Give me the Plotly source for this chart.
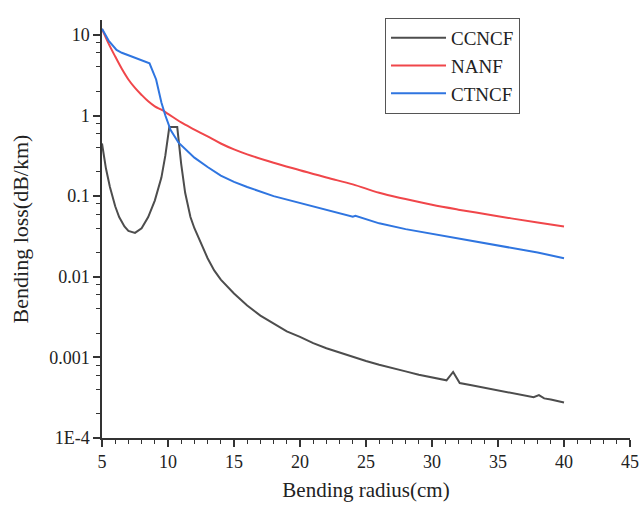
import plotly.graph_objects as go

# CCNCF
ccncf_x = [5.0, 5.3, 5.6, 6.0, 6.3, 6.7, 7.0, 7.5, 8.0, 8.5, 9.0, 9.5, 9.8, 10.1, 10.7,
           11.0, 11.3, 11.7, 12.0, 12.5, 13.0, 13.5, 14.0, 15.0, 16.0, 17.0, 18.0, 19.0,
           20.0, 21.0, 22.0, 23.0, 24.0, 25.0, 26.0, 27.0, 28.0, 29.0, 30.0, 31.1, 31.6,
           32.1, 33.0, 34.0, 35.0, 36.0, 37.0, 37.7, 38.1, 38.5, 39.0, 40.0]
ccncf_y = [0.45, 0.22, 0.13, 0.075, 0.055, 0.042, 0.037, 0.035, 0.040, 0.055, 0.088, 0.17,
           0.32, 0.72, 0.72, 0.25, 0.11, 0.055, 0.040, 0.026, 0.017, 0.012, 0.0092, 0.0062,
           0.0044, 0.0033, 0.0026, 0.0021, 0.0018, 0.0015, 0.0013, 0.00115, 0.0010, 0.00090,
           0.00081, 0.00073, 0.00067, 0.00061, 0.00056, 0.00052, 0.00066, 0.00048, 0.00045,
           0.00042, 0.00039, 0.00036, 0.00034, 0.00032, 0.00034, 0.00031, 0.00030, 0.000275]

# NANF
nanf_x = [5.0, 5.5, 6.0, 6.5, 7.0, 7.5, 8.0, 8.5, 9.0, 9.5, 10.0, 11.0, 12.0, 13.0, 14.0,
          15.0, 16.0, 18.0, 20.0, 22.0, 24.0, 26.0, 28.0, 30.0, 32.0, 34.0, 36.0, 38.0, 40.0]
nanf_y = [11.8, 7.8, 5.4, 3.8, 2.8, 2.2, 1.8, 1.5, 1.3, 1.18, 1.05, 0.82, 0.67, 0.55, 0.45,
          0.38, 0.33, 0.26, 0.21, 0.17, 0.14, 0.11, 0.092, 0.078, 0.068, 0.060, 0.053,
          0.047, 0.042]

# CTNCF
ctncf_x = [5.0, 5.5, 6.1, 6.5, 7.0, 7.5, 8.0, 8.3, 8.6, 9.1, 9.5, 9.8, 10.2, 10.8, 11.5,
           12.0, 13.0, 14.0, 15.0, 16.0, 18.0, 20.0, 22.0, 24.0, 24.2, 26.0, 28.0, 30.0,
           32.0, 34.0, 36.0, 38.0, 40.0]
ctncf_y = [11.9, 8.5, 6.5, 6.0, 5.6, 5.2, 4.8, 4.65, 4.45, 2.8, 1.45, 1.0, 0.66, 0.46, 0.36,
           0.30, 0.23, 0.18, 0.15, 0.13, 0.10, 0.082, 0.067, 0.0555, 0.057, 0.046, 0.039,
           0.034, 0.030, 0.026, 0.023, 0.020, 0.017]

y_tickvals = [1e-4, 1e-3, 1e-2, 1e-1, 1, 10]
y_ticktext = ["1E-4", "0.001", "0.01", "0.1", "1", "10"]
y_minor = [m * 10 ** e for e in range(-4, 2) for m in (2, 4, 6, 8)]

FONT = "Liberation Serif"

fig = go.Figure()
fig.add_trace(go.Scatter(x=ccncf_x, y=ccncf_y, mode="lines", name="CCNCF",
                         line=dict(color="#4d4d4d", width=2)))
fig.add_trace(go.Scatter(x=nanf_x, y=nanf_y, mode="lines", name="NANF",
                         line=dict(color="#f0464a", width=2), line_shape="spline"))
fig.add_trace(go.Scatter(x=ctncf_x, y=ctncf_y, mode="lines", name="CTNCF",
                         line=dict(color="#2f75e0", width=2)))

axis_common = dict(showline=True, linecolor="#333333", linewidth=1.5, ticks="outside",
                   ticklen=7, tickwidth=1.5, tickcolor="#333333", showgrid=False,
                   zeroline=False, automargin=False,
                   tickfont=dict(family=FONT, size=18, color="#222222"))

fig.update_xaxes(range=[5, 45], tick0=5, dtick=5, title=dict(text="Bending radius(cm)",
                 font=dict(family=FONT, size=21, color="#222222"), standoff=11),
                 minor=dict(dtick=1, ticks="outside", ticklen=4, tickwidth=1.2,
                            tickcolor="#333333"),
                 **axis_common)
fig.update_yaxes(type="log", range=[-4, 1.185], tickmode="array", tickvals=y_tickvals,
                 ticktext=y_ticktext,
                 title=dict(text="Bending loss(dB/km)",
                            font=dict(family=FONT, size=22, color="#222222"), standoff=14),
                 minor=dict(tickmode="array", tickvals=y_minor, ticks="outside", ticklen=4,
                            tickwidth=1.2, tickcolor="#333333"),
                 **axis_common)

fig.update_layout(
    width=641, height=505,
    margin=dict(l=102, r=11, t=20, b=67),
    plot_bgcolor="white", paper_bgcolor="white",
    showlegend=True,
    legend=dict(x=0.536, y=1.005, xanchor="left", yanchor="top",
                bgcolor="white", bordercolor="#555555", borderwidth=1,
                font=dict(family=FONT, size=19, color="#222222"),
                itemwidth=55, tracegroupgap=0),
)

fig.write_html("out.html")
